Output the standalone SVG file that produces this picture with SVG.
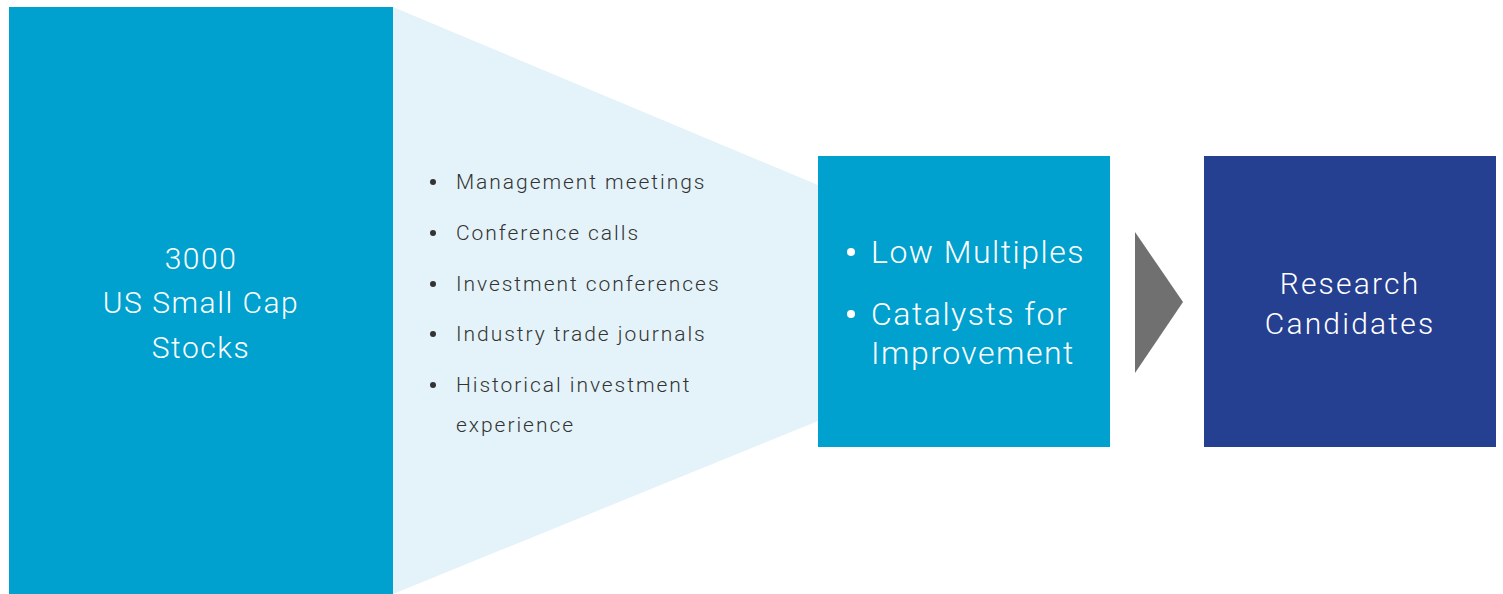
<svg xmlns="http://www.w3.org/2000/svg" width="1503" height="594" viewBox="0 0 1503 594">
<style>
.big{font-family:Roboto,"Liberation Sans",sans-serif;font-weight:300;fill:#ffffff;letter-spacing:1.5px}
.lst{font-family:Roboto,"Liberation Sans",sans-serif;font-weight:300;fill:#333333;font-size:21px;letter-spacing:1.95px}
</style>
<rect width="1503" height="594" fill="#ffffff"/>
<g id="funnel"><polygon points="393,7 818,185 818,421 393,594" fill="#e4f3f9"/></g>
<g id="universe">
<rect x="9" y="7" width="384" height="587" fill="#00a1ce"/>
<text class="big" font-size="30" text-anchor="middle"><tspan x="201" y="269">3000</tspan><tspan x="201" y="313">US Small Cap</tspan><tspan x="201" y="358">Stocks</tspan></text>
</g>
<g id="sources">
<g fill="#333333"><circle cx="433" cy="182" r="3"/><circle cx="433" cy="233" r="3"/><circle cx="433" cy="284" r="3"/><circle cx="433" cy="334" r="3"/><circle cx="433" cy="385" r="3"/></g>
<text class="lst"><tspan x="456" y="189">Management meetings</tspan><tspan x="456" y="240">Conference calls</tspan><tspan x="456" y="291">Investment conferences</tspan><tspan x="456" y="341">Industry trade journals</tspan><tspan x="456" y="392">Historical investment</tspan><tspan x="456" y="432">experience</tspan></text>
</g>
<g id="screen">
<rect x="818" y="156" width="292" height="291" fill="#00a1ce"/>
<g fill="#ffffff"><circle cx="851" cy="252" r="4"/><circle cx="851" cy="314" r="4"/></g>
<text class="big" font-size="32"><tspan x="871" y="263">Low Multiples</tspan><tspan x="871" y="325">Catalysts for</tspan><tspan x="871" y="364">Improvement</tspan></text>
</g>
<g id="connectors"><polygon points="1135,232 1183,302 1135,373" fill="#707070"/></g>
<g id="candidates">
<rect x="1204" y="156" width="292" height="291" fill="#253f91"/>
<text class="big" font-size="30" text-anchor="middle" style="letter-spacing:2.2px"><tspan x="1350" y="294">Research</tspan><tspan x="1350" y="334">Candidates</tspan></text>
</g>
</svg>
